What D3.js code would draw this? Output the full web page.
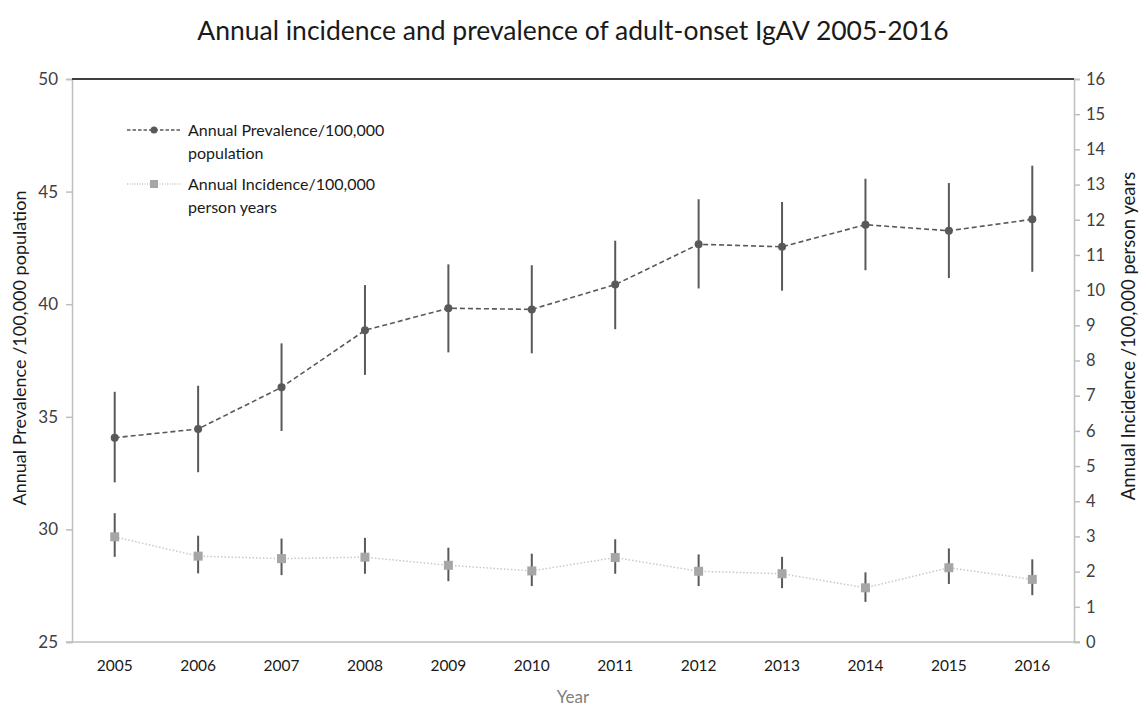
<!DOCTYPE html>
<html>
<head>
<meta charset="utf-8">
<script src="https://cdn.jsdelivr.net/npm/d3@7"></script>
<style>
  html, body { margin: 0; padding: 0; background: #fff; }
  svg text { font-family: Lato, "Open Sans", sans-serif; }
</style>
</head>
<body>
<svg id="chart" width="1141" height="706"></svg>
<script>
// Years on the x axis
const years = ["2005","2006","2007","2008","2009","2010","2011","2012","2013","2014","2015","2016"];

// Annual prevalence per 100,000 population, with lower/upper confidence limits
const prevalence = [34.07, 34.46, 36.31, 38.84, 39.82, 39.77, 40.87, 42.66, 42.55, 43.53, 43.26, 43.77];
const prevalenceLow = [32.09, 32.54, 34.37, 36.86, 37.86, 37.82, 38.89, 40.70, 40.60, 41.51, 41.16, 41.44];
const prevalenceHigh = [36.11, 36.38, 38.26, 40.85, 41.77, 41.73, 42.82, 44.66, 44.54, 45.57, 45.38, 46.15];

// Annual incidence per 100,000 person years, with lower/upper confidence limits
const incidence = [2.99, 2.44, 2.37, 2.41, 2.18, 2.02, 2.40, 2.01, 1.94, 1.54, 2.11, 1.78];
const incidenceLow = [2.42, 1.95, 1.90, 1.94, 1.73, 1.59, 1.94, 1.59, 1.53, 1.14, 1.65, 1.33];
const incidenceHigh = [3.66, 3.02, 2.94, 2.96, 2.68, 2.51, 2.92, 2.49, 2.42, 1.98, 2.66, 2.35];

// Axis ticks
const leftTicks = [25, 30, 35, 40, 45, 50];
const rightTicks = d3.range(0, 17);

const svg = d3.select("#chart");
const plot = { left: 72, right: 1074, top: 79, bottom: 642 };

const x = d3.scaleBand().domain(years).range([plot.left + 1, plot.right]).paddingInner(0).paddingOuter(0);
const cx = d => x(d) + x.bandwidth() / 2;
const yL = d3.scaleLinear().domain([25, 50]).range([plot.bottom, plot.top]);
const yR = d3.scaleLinear().domain([0, 16]).range([plot.bottom, plot.top]);

const textColor = "#404040";
const axisGray = "#bfbfbf";
const darkMark = "#595959";
const lightMark = "#a6a6a6";

// Title
svg.append("text")
  .attr("x", 573).attr("y", 40)
  .attr("text-anchor", "middle")
  .attr("font-size", 26.5)
  .attr("fill", "#1a1a1a")
  .text("Annual incidence and prevalence of adult-onset IgAV 2005-2016");

// Left axis
const leftAxis = d3.axisLeft(yL).tickValues(leftTicks).tickSize(6).tickPadding(8);
const gL = svg.append("g").attr("transform", `translate(${plot.left},0)`).call(leftAxis);
gL.select(".domain").attr("stroke", axisGray).attr("stroke-width", 1.5);
gL.selectAll(".tick line").attr("stroke", axisGray).attr("stroke-width", 1.5);
gL.selectAll(".tick text").attr("font-size", 17).attr("fill", textColor)
  .style("font-family", "Lato, sans-serif");

// Right axis
const rightAxis = d3.axisRight(yR).tickValues(rightTicks).tickSize(6).tickPadding(6);
const gR = svg.append("g").attr("transform", `translate(${plot.right},0)`).call(rightAxis);
gR.select(".domain").attr("stroke", axisGray).attr("stroke-width", 1.5);
gR.selectAll(".tick line").attr("stroke", axisGray).attr("stroke-width", 1.5);
gR.selectAll(".tick text").attr("font-size", 16.5).attr("fill", textColor)
  .style("font-family", "Lato, sans-serif");

// Bottom axis (category labels, no inner ticks)
const bottomAxis = d3.axisBottom(x).tickSize(0).tickPadding(18);
const gB = svg.append("g").attr("transform", `translate(0,${plot.bottom})`).call(bottomAxis);
gB.select(".domain").attr("stroke", axisGray).attr("stroke-width", 1.5)
  .attr("d", `M${plot.left - 6},0H${plot.right + 6}`);
gB.selectAll(".tick text").attr("font-size", 15.5).attr("fill", "#1a1a1a")
  .style("font-family", "Lato, sans-serif");

// Top border
svg.append("line")
  .attr("x1", plot.left).attr("x2", plot.right)
  .attr("y1", plot.top).attr("y2", plot.top)
  .attr("stroke", "#404040").attr("stroke-width", 2);

// Axis titles
svg.append("text")
  .attr("transform", `translate(26,348) rotate(-90)`)
  .attr("text-anchor", "middle").attr("font-size", 18).attr("fill", "#1a1a1a")
  .text("Annual Prevalence /100,000 population");

svg.append("text")
  .attr("transform", `translate(1135,336) rotate(-90)`)
  .attr("text-anchor", "middle").attr("font-size", 18.5).attr("fill", "#1a1a1a")
  .text("Annual Incidence /100,000 person years");

svg.append("text")
  .attr("x", 573).attr("y", 703)
  .attr("text-anchor", "middle").attr("font-size", 17).attr("fill", "#808080")
  .text("Year");

// Incidence series (right axis)
const incData = years.map((yr, i) => ({ yr, v: incidence[i], lo: incidenceLow[i], hi: incidenceHigh[i] }));
svg.append("path")
  .datum(incData)
  .attr("fill", "none").attr("stroke", "#c8c8c8").attr("stroke-width", 1.5)
  .attr("stroke-dasharray", "1.5,2")
  .attr("d", d3.line().x(d => cx(d.yr)).y(d => yR(d.v)));
svg.append("g").selectAll("line").data(incData).join("line")
  .attr("x1", d => cx(d.yr)).attr("x2", d => cx(d.yr))
  .attr("y1", d => yR(d.lo)).attr("y2", d => yR(d.hi))
  .attr("stroke", darkMark).attr("stroke-width", 2);
svg.append("g").selectAll("rect").data(incData).join("rect")
  .attr("x", d => cx(d.yr) - 4.5).attr("y", d => yR(d.v) - 4.5)
  .attr("width", 9).attr("height", 9)
  .attr("fill", lightMark);

// Prevalence series (left axis)
const prevData = years.map((yr, i) => ({ yr, v: prevalence[i], lo: prevalenceLow[i], hi: prevalenceHigh[i] }));
svg.append("path")
  .datum(prevData)
  .attr("fill", "none").attr("stroke", darkMark).attr("stroke-width", 1.6)
  .attr("stroke-dasharray", "5,3")
  .attr("d", d3.line().x(d => cx(d.yr)).y(d => yL(d.v)));
svg.append("g").selectAll("line").data(prevData).join("line")
  .attr("x1", d => cx(d.yr)).attr("x2", d => cx(d.yr))
  .attr("y1", d => yL(d.lo)).attr("y2", d => yL(d.hi))
  .attr("stroke", darkMark).attr("stroke-width", 2);
svg.append("g").selectAll("circle").data(prevData).join("circle")
  .attr("cx", d => cx(d.yr)).attr("cy", d => yL(d.v))
  .attr("r", 4).attr("fill", darkMark);

// Legend
const legend = svg.append("g");
const legendItems = [
  { lines: ["Annual Prevalence/100,000", "population"], y: 130, kind: "prev" },
  { lines: ["Annual Incidence/100,000", "person years"], y: 184, kind: "inc" }
];
legendItems.forEach(item => {
  const g = legend.append("g");
  if (item.kind === "prev") {
    g.append("line").attr("x1", 127).attr("x2", 182).attr("y1", item.y).attr("y2", item.y)
      .attr("stroke", darkMark).attr("stroke-width", 1.3).attr("stroke-dasharray", "3.5,2");
    g.append("circle").attr("cx", 154).attr("cy", item.y).attr("r", 3.5).attr("fill", darkMark);
  } else {
    g.append("line").attr("x1", 127).attr("x2", 182).attr("y1", item.y).attr("y2", item.y)
      .attr("stroke", "#c8c8c8").attr("stroke-width", 1.3).attr("stroke-dasharray", "1,1.5");
    g.append("rect").attr("x", 150).attr("y", item.y - 4).attr("width", 8).attr("height", 8).attr("fill", lightMark);
  }
  item.lines.forEach((t, k) => {
    g.append("text").attr("x", 188).attr("y", item.y + 6 + k * 23)
      .attr("font-size", 16).attr("fill", "#1a1a1a").text(t);
  });
});
</script>
</body>
</html>
